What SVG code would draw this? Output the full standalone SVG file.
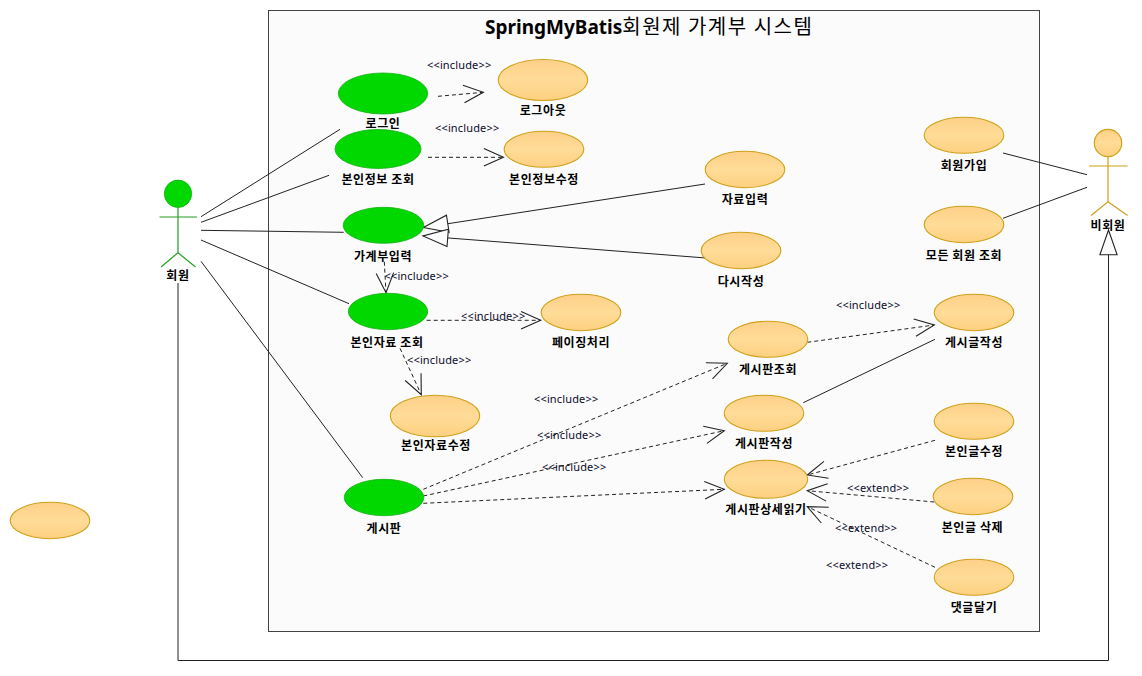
<svg xmlns="http://www.w3.org/2000/svg" width="1142" height="676" viewBox="0 0 1142 676">
<style>
text{font-family:"Noto Sans CJK KR","Liberation Sans",sans-serif;fill:#000}
.n{font-size:12px;font-weight:700;text-anchor:middle;letter-spacing:.6px}
.s{font-family:"Noto Sans","Liberation Sans",sans-serif;font-size:11px;letter-spacing:.15px;fill:#0a0a2a}
.u{fill:url(#gu);stroke:#d0a018;stroke-width:1.1}
.g{fill:#00d800;stroke:#10b010;stroke-width:.8}
.l{fill:none;stroke:#222;stroke-width:1}
.d{fill:none;stroke:#222;stroke-width:1;stroke-dasharray:4 3;marker-end:url(#open)}
.t{fill:none;stroke:#222;stroke-width:1;marker-end:url(#tri)}
.ag{fill:none;stroke:#22a022;stroke-width:1.2}
.ao{fill:none;stroke:#d0a018;stroke-width:1.2}
</style>
<defs>
<linearGradient id="gu" x1="0" y1="0" x2="0" y2="1"><stop offset="0" stop-color="#fdd088"/><stop offset=".5" stop-color="#ffdc98"/><stop offset="1" stop-color="#fdd080"/></linearGradient>
<marker id="open" markerUnits="userSpaceOnUse" markerWidth="24" markerHeight="22" refX="18" refY="8" viewBox="-1 -1 22 18" orient="auto"><path d="M0 0L18 8L0 16" fill="none" stroke="#222" stroke-width="1"/></marker>
<marker id="tri" markerUnits="userSpaceOnUse" markerWidth="28" markerHeight="22" refX="23" refY="8" viewBox="-1 -1 26 18" orient="auto"><path d="M0 0L23 8L0 16Z" fill="#fbfbfb" stroke="#222" stroke-width="1"/></marker>
</defs>
<rect width="1142" height="676" fill="#fff"/>
<g id="system">
<rect x="268.5" y="10.5" width="771" height="621" fill="#fbfbfb" stroke="#444" stroke-width="1"/>
<text x="485" y="34" font-size="19"><tspan font-weight="700" font-family="Noto Sans,Liberation Sans,sans-serif">SpringMyBatis</tspan><tspan font-size="20" letter-spacing="1.5">회원제 가계부 시스템</tspan></text>
</g>
<g id="connectors">
<path class="l" d="M201 216.7L340 129.3M201 222.3L329 175.3M201 230.3L343.7 232.3M201 240L349 303.7M201 261.3L362.7 477.7"/>
<path class="l" d="M1003 153L1087 174.7M1003 218.3L1087 187.3M803.3 402.7L935 339.3"/>
<path class="t" d="M705 184L423.3 227.5"/>
<path class="t" d="M706 258L423 236"/>
<path class="t" d="M178 283V660.5H1108.5V230"/>
<path class="d" d="M438 96.3L483.3 92.3"/>
<path class="d" d="M428 157.3H503.5"/>
<path class="d" d="M384.3 261.7L386 292.7"/>
<path class="d" d="M426.7 320.3H540.7"/>
<path class="d" d="M400 348.3L421.3 394.7"/>
<path class="d" d="M423.3 489.3L727.3 363.3"/>
<path class="d" d="M423.3 496L724.3 430.7"/>
<path class="d" d="M423.3 503.3L724.3 489.3"/>
<path class="d" d="M807.3 342.3L934.3 325"/>
<path class="d" d="M935 440.3L807.3 475"/>
<path class="d" d="M934.3 502L807.3 490.7"/>
<path class="d" d="M935 567.3L807.3 506.7"/>
</g>
<g id="stereotypes" class="s">
<text class="s" x="427" y="69">&lt;&lt;include&gt;&gt;</text>
<text class="s" x="435" y="132">&lt;&lt;include&gt;&gt;</text>
<text class="s" x="384.5" y="280">&lt;&lt;include&gt;&gt;</text>
<text class="s" x="461" y="320">&lt;&lt;include&gt;&gt;</text>
<text class="s" x="407" y="364">&lt;&lt;include&gt;&gt;</text>
<text class="s" x="534" y="403">&lt;&lt;include&gt;&gt;</text>
<text class="s" x="537" y="439">&lt;&lt;include&gt;&gt;</text>
<text class="s" x="542" y="471">&lt;&lt;include&gt;&gt;</text>
<text class="s" x="836" y="309">&lt;&lt;include&gt;&gt;</text>
<text class="s" x="847" y="492">&lt;&lt;extend&gt;&gt;</text>
<text class="s" x="835" y="532">&lt;&lt;extend&gt;&gt;</text>
<text class="s" x="826" y="569">&lt;&lt;extend&gt;&gt;</text>
</g>
<g id="actor-member"><circle class="g" cx="178" cy="193.8" r="13.7"/><path class="ag" d="M178 207.5V252.7M159.5 217H197M161 267L178 252.7L195.5 267"/><text class="n" x="178" y="280">회원</text></g>
<g id="actor-guest"><circle cx="1108" cy="143" r="13.7" fill="url(#gu)" stroke="#d0a018" stroke-width="1.2"/><path class="ao" d="M1108 156.5V201.7M1089 166H1127.6M1091 215.5L1108 201.7L1127.6 215.5"/><text class="n" x="1108" y="229.5">비회원</text></g>
<g id="uc-login"><ellipse class="g" cx="383" cy="93.5" rx="44.7" ry="20.5"/><text class="n" x="383" y="127.5">로그인</text></g>
<g id="uc-myinfo"><ellipse class="g" cx="378" cy="149" rx="43" ry="19.5"/><text class="n" x="378" y="184">본인정보 조회</text></g>
<g id="uc-entry"><ellipse class="g" cx="383.5" cy="225.3" rx="40.3" ry="18"/><text class="n" x="383" y="260.5">가계부입력</text></g>
<g id="uc-mydata"><ellipse class="g" cx="388" cy="311.5" rx="39.7" ry="18.2"/><text class="n" x="387" y="347">본인자료 조회</text></g>
<g id="uc-board"><ellipse class="g" cx="384" cy="497.5" rx="39.8" ry="18.2"/><text class="n" x="384" y="532.5">게시판</text></g>
<g id="uc-logout"><ellipse class="u" cx="543" cy="80" rx="44.7" ry="20.5"/><text class="n" x="543" y="114.5">로그아웃</text></g>
<g id="uc-editinfo"><ellipse class="u" cx="544" cy="149.3" rx="39.8" ry="18"/><text class="n" x="544" y="184">본인정보수정</text></g>
<g id="uc-input"><ellipse class="u" cx="745" cy="169.5" rx="39.8" ry="18.2"/><text class="n" x="745" y="203.5">자료입력</text></g>
<g id="uc-rewrite"><ellipse class="u" cx="741" cy="250.5" rx="39.8" ry="18.2"/><text class="n" x="741" y="285.5">다시작성</text></g>
<g id="uc-paging"><ellipse class="u" cx="581" cy="312.5" rx="39.8" ry="18.2"/><text class="n" x="581" y="347">페이징처리</text></g>
<g id="uc-editdata"><ellipse class="u" cx="435" cy="416" rx="44.7" ry="20.7"/><text class="n" x="436" y="449.5">본인자료수정</text></g>
<g id="uc-join"><ellipse class="u" cx="964" cy="135.3" rx="39.8" ry="18"/><text class="n" x="964" y="170">회원가입</text></g>
<g id="uc-allmembers"><ellipse class="u" cx="964" cy="224.5" rx="39.8" ry="18.2"/><text class="n" x="964" y="260">모든 회원 조회</text></g>
<g id="uc-postwrite"><ellipse class="u" cx="974" cy="312.5" rx="39.8" ry="18.2"/><text class="n" x="974" y="346.5">게시글작성</text></g>
<g id="uc-boardview"><ellipse class="u" cx="768" cy="339.3" rx="39.8" ry="18"/><text class="n" x="768" y="373.5">게시판조회</text></g>
<g id="uc-boardwrite"><ellipse class="u" cx="764" cy="413.3" rx="39.8" ry="18"/><text class="n" x="764" y="447.5">게시판작성</text></g>
<g id="uc-myedit"><ellipse class="u" cx="974" cy="421.3" rx="39.8" ry="18"/><text class="n" x="974" y="455.5">본인글수정</text></g>
<g id="uc-detail"><ellipse class="u" cx="766" cy="479.3" rx="41.7" ry="19"/><text class="n" x="766" y="513.5">게시판상세읽기</text></g>
<g id="uc-mydelete"><ellipse class="u" cx="973" cy="496.5" rx="39.8" ry="18.2"/><text class="n" x="972.5" y="532">본인글 삭제</text></g>
<g id="uc-comment"><ellipse class="u" cx="974" cy="577.3" rx="39.8" ry="18"/><text class="n" x="974" y="612">댓글달기</text></g>
<g id="uc-stray"><ellipse class="u" cx="50" cy="520.5" rx="39.8" ry="18.2"/></g>
</svg>
